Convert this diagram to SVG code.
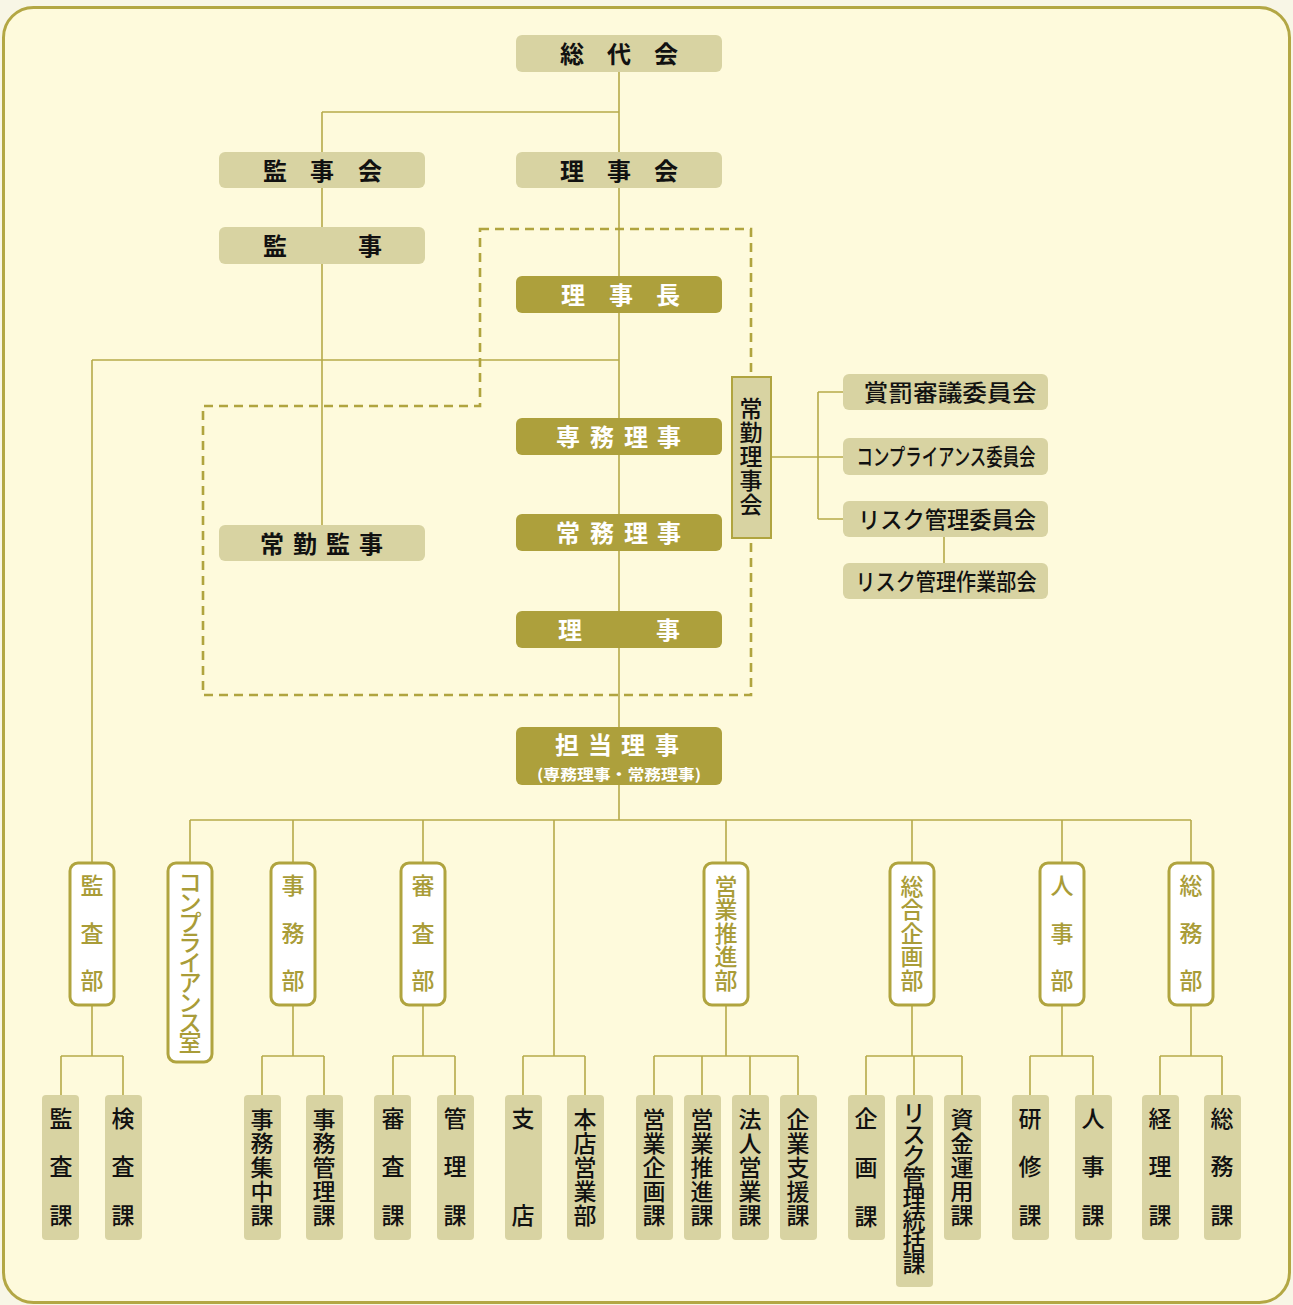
<svg xmlns="http://www.w3.org/2000/svg" width="1293" height="1305" viewBox="0 0 1293 1305">
<defs>
<style>
.frame{fill:#fefadc;stroke:#b3a744;stroke-width:3}
.ln{fill:none;stroke:#b6aa4a;stroke-width:1.6}
.dash{fill:none;stroke:#b0a43f;stroke-width:2.6;stroke-dasharray:9 6}
.lt{fill:#d8d3a2}
.dk{fill:#ada03c}
.dept{fill:#ffffff;stroke:#b0a43f;stroke-width:3}
.jk{fill:#d8d3a2;stroke:#b0a43f;stroke-width:2}
text{font-family:"Noto Sans CJK JP","Noto Sans",sans-serif}
.tb{fill:#111;font-size:24px;font-weight:bold;text-anchor:middle}
.tw{fill:#fff;font-size:24px;font-weight:bold;text-anchor:middle}
.tc{fill:#111;font-size:23px;font-weight:500;text-anchor:middle}
.td{fill:#a99c38;font-size:23px;font-weight:500;text-anchor:middle}
.ts{fill:#111;font-size:23px;font-weight:500;text-anchor:middle}
</style>
</defs>
<rect x="0" y="0" width="1293" height="1305" fill="#f8f6e6"/>
<rect class="frame" x="3.5" y="7.5" width="1286" height="1295" rx="30"/>

<g id="connectors">
<path class="ln" d="M619 72V820M322 112H619M322 112V525M92 360H619M92 360V863"/>
<path class="ln" d="M771 457H843M818 392V519M818 392H843M818 519H843M944 537V563"/>
<path class="ln" d="M190 820H1191M190 820V863M293 820V863M423 820V863M554 820V1056M726 820V863M912 820V863M1062 820V863M1191 820V863"/>
<path class="ln" d="M92 1005V1056M61 1056H123M61 1056V1095M123 1056V1095"/>
<path class="ln" d="M293 1005V1056M262 1056H324M262 1056V1095M324 1056V1095"/>
<path class="ln" d="M423 1005V1056M393 1056H455M393 1056V1095M455 1056V1095"/>
<path class="ln" d="M523 1056H585M523 1056V1095M585 1056V1095"/>
<path class="ln" d="M726 1005V1056M654 1056H798M654 1056V1095M702 1056V1095M750 1056V1095M798 1056V1095"/>
<path class="ln" d="M912 1005V1056M866 1056H962M866 1056V1095M914 1056V1095M962 1056V1095"/>
<path class="ln" d="M1062 1005V1056M1030 1056H1093M1030 1056V1095M1093 1056V1095"/>
<path class="ln" d="M1191 1005V1056M1160 1056H1222M1160 1056V1095M1222 1056V1095"/>
<path class="dash" d="M480 229H751V695H203V406H480Z"/>
</g>

<g id="n-soudaikai"><rect class="lt" x="516" y="35" width="206" height="37" rx="6"/><text class="tb" x="572 619 666" y="63">総代会</text></g>
<g id="n-rijikai"><rect class="lt" x="516" y="152" width="206" height="36" rx="6"/><text class="tb" x="572 619 666" y="180">理事会</text></g>
<g id="n-kanjikai"><rect class="lt" x="219" y="152" width="206" height="36" rx="6"/><text class="tb" x="275 322 370" y="180">監事会</text></g>
<g id="n-kanji"><rect class="lt" x="219" y="227" width="206" height="37" rx="6"/><text class="tb" x="275 370" y="255">監事</text></g>
<g id="n-joukinkanji"><rect class="lt" x="219" y="525" width="206" height="36" rx="6"/><text class="tb" x="272 305 338 371" y="553">常勤監事</text></g>

<g id="n-rijicho"><rect class="dk" x="516" y="276" width="206" height="37" rx="6"/><text class="tw" x="573 621 668" y="304">理事長</text></g>
<g id="n-senmu"><rect class="dk" x="516" y="418" width="206" height="37" rx="6"/><text class="tw" x="568 602 636 669" y="446">専務理事</text></g>
<g id="n-joumu"><rect class="dk" x="516" y="514" width="206" height="37" rx="6"/><text class="tw" x="568 602 636 669" y="542">常務理事</text></g>
<g id="n-riji"><rect class="dk" x="516" y="611" width="206" height="37" rx="6"/><text class="tw" x="570 668" y="639">理事</text></g>
<g id="n-tantou"><rect class="dk" x="516" y="727" width="206" height="58" rx="6"/><text class="tw" x="567 600 633 667" y="754">担当理事</text><text x="619" y="780" fill="#fff" font-size="15" font-weight="bold" text-anchor="middle" textLength="164" lengthAdjust="spacingAndGlyphs">(専務理事・常務理事)</text></g>

<g id="n-joukinrijikai"><rect class="jk" x="732" y="377" width="39" height="161"/><text class="tc" x="751 751 751 751 751" y="417 441 465 489 513">常勤理事会</text></g>

<g id="n-shoubatsu"><rect class="lt" x="843" y="374" width="205" height="36" rx="6"/><text class="tc" x="950" y="401" textLength="173" lengthAdjust="spacingAndGlyphs">賞罰審議委員会</text></g>
<g id="n-compiinkai"><rect class="lt" x="843" y="438" width="205" height="37" rx="6"/><text class="tc" x="946" y="465" textLength="179" lengthAdjust="spacingAndGlyphs">コンプライアンス委員会</text></g>
<g id="n-riskiinkai"><rect class="lt" x="843" y="501" width="205" height="36" rx="6"/><text class="tc" x="947" y="528" textLength="178" lengthAdjust="spacingAndGlyphs">リスク管理委員会</text></g>
<g id="n-risksagyou"><rect class="lt" x="843" y="563" width="205" height="36" rx="6"/><text class="tc" x="946" y="590" textLength="181" lengthAdjust="spacingAndGlyphs">リスク管理作業部会</text></g>

<g id="d-kansa"><rect class="dept" x="70" y="863" width="44" height="142" rx="8"/><text class="td" x="92 92 92" y="894 942 989">監査部</text></g>
<g id="d-comp"><rect class="dept" x="168" y="863" width="44" height="199" rx="8"/><text class="td" x="190 190 190 190 190 190 190 190 190" y="891 911 931 951 971 991 1011 1031 1051" font-size="19.5">コンプライアンス室</text></g>
<g id="d-jimu"><rect class="dept" x="271" y="863" width="44" height="142" rx="8"/><text class="td" x="293 293 293" y="894 942 989">事務部</text></g>
<g id="d-shinsa"><rect class="dept" x="401" y="863" width="44" height="142" rx="8"/><text class="td" x="423 423 423" y="894 942 989">審査部</text></g>
<g id="d-eigyo"><rect class="dept" x="704" y="863" width="44" height="142" rx="8"/><text class="td" x="726 726 726 726 726" y="895 918 942 965 989">営業推進部</text></g>
<g id="d-sougou"><rect class="dept" x="890" y="863" width="44" height="142" rx="8"/><text class="td" x="912 912 912 912 912" y="895 918 942 965 989">総合企画部</text></g>
<g id="d-jinji"><rect class="dept" x="1040" y="863" width="44" height="142" rx="8"/><text class="td" x="1062 1062 1062" y="894 942 989">人事部</text></g>
<g id="d-soumu"><rect class="dept" x="1169" y="863" width="44" height="142" rx="8"/><text class="td" x="1191 1191 1191" y="894 942 989">総務部</text></g>

<g id="s-kansaka"><rect class="lt" x="42" y="1095" width="37" height="145" rx="4"/><text class="ts" x="61 61 61" y="1127 1175 1224">監査課</text></g>
<g id="s-kensaka"><rect class="lt" x="105" y="1095" width="37" height="145" rx="4"/><text class="ts" x="123 123 123" y="1127 1175 1224">検査課</text></g>
<g id="s-jimushuchu"><rect class="lt" x="244" y="1095" width="37" height="145" rx="4"/><text class="ts" x="262 262 262 262 262" y="1128 1152 1176 1200 1224">事務集中課</text></g>
<g id="s-jimukanri"><rect class="lt" x="306" y="1095" width="37" height="145" rx="4"/><text class="ts" x="324 324 324 324 324" y="1128 1152 1176 1200 1224">事務管理課</text></g>
<g id="s-shinsaka"><rect class="lt" x="374" y="1095" width="37" height="145" rx="4"/><text class="ts" x="393 393 393" y="1127 1175 1224">審査課</text></g>
<g id="s-kanrika"><rect class="lt" x="437" y="1095" width="37" height="145" rx="4"/><text class="ts" x="455 455 455" y="1127 1175 1224">管理課</text></g>
<g id="s-shiten"><rect class="lt" x="505" y="1095" width="37" height="145" rx="4"/><text class="ts" x="523 523" y="1127 1224">支店</text></g>
<g id="s-honten"><rect class="lt" x="567" y="1095" width="37" height="145" rx="4"/><text class="ts" x="585 585 585 585 585" y="1128 1152 1176 1200 1224">本店営業部</text></g>
<g id="s-eigyokikaku"><rect class="lt" x="636" y="1095" width="37" height="145" rx="4"/><text class="ts" x="654 654 654 654 654" y="1128 1152 1176 1200 1224">営業企画課</text></g>
<g id="s-eigyosuishin"><rect class="lt" x="684" y="1095" width="37" height="145" rx="4"/><text class="ts" x="702 702 702 702 702" y="1128 1152 1176 1200 1224">営業推進課</text></g>
<g id="s-houjin"><rect class="lt" x="732" y="1095" width="37" height="145" rx="4"/><text class="ts" x="750 750 750 750 750" y="1128 1152 1176 1200 1224">法人営業課</text></g>
<g id="s-kigyoshien"><rect class="lt" x="780" y="1095" width="37" height="145" rx="4"/><text class="ts" x="798 798 798 798 798" y="1128 1152 1176 1200 1224">企業支援課</text></g>
<g id="s-kikakuka"><rect class="lt" x="848" y="1095" width="37" height="145" rx="4"/><text class="ts" x="866 866 866" y="1127 1176 1225">企画課</text></g>
<g id="s-risktoukatsu"><rect class="lt" x="896" y="1095" width="37" height="192" rx="4"/><text class="ts" x="914 914 914 914 914 914 914 914" y="1121 1142.5 1164 1185.5 1207 1228.5 1250 1271.5" font-size="21">リスク管理統括課</text></g>
<g id="s-shikin"><rect class="lt" x="944" y="1095" width="37" height="145" rx="4"/><text class="ts" x="962 962 962 962 962" y="1128 1152 1176 1200 1224">資金運用課</text></g>
<g id="s-kenshu"><rect class="lt" x="1012" y="1095" width="37" height="145" rx="4"/><text class="ts" x="1030 1030 1030" y="1127 1175 1224">研修課</text></g>
<g id="s-jinjika"><rect class="lt" x="1075" y="1095" width="37" height="145" rx="4"/><text class="ts" x="1093 1093 1093" y="1127 1175 1224">人事課</text></g>
<g id="s-keiri"><rect class="lt" x="1142" y="1095" width="37" height="145" rx="4"/><text class="ts" x="1160 1160 1160" y="1127 1175 1224">経理課</text></g>
<g id="s-soumuka"><rect class="lt" x="1204" y="1095" width="37" height="145" rx="4"/><text class="ts" x="1222 1222 1222" y="1127 1175 1224">総務課</text></g>
</svg>
